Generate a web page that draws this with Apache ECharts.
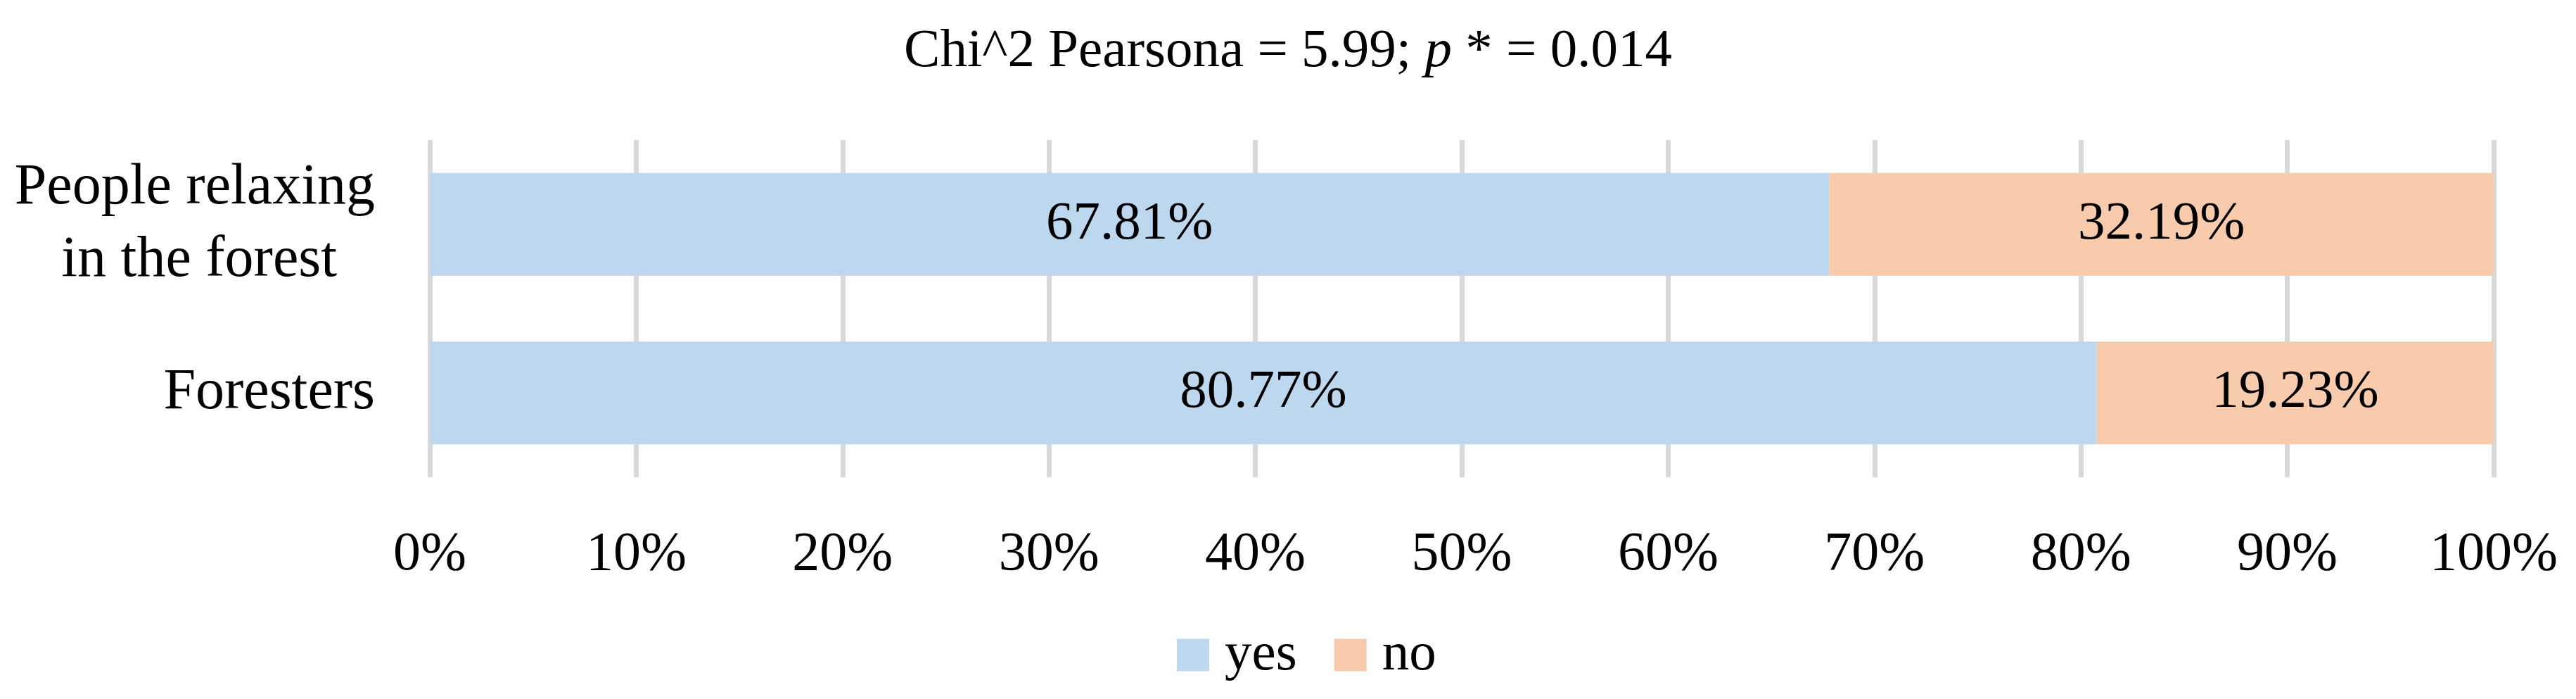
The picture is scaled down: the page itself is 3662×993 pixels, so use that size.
<!DOCTYPE html>
<html>
<head>
<meta charset="utf-8">
<script src="https://cdn.jsdelivr.net/npm/echarts@6/dist/echarts.min.js"></script>
<style>html,body{margin:0;padding:0;background:#fff;}#c{width:3662px;height:993px;}</style>
</head>
<body>
<div id="c"></div>
<script>
const categories = ['People relaxing\nin the forest', 'Foresters'];
const yesValues = [67.81, 80.77];
const noValues = [32.19, 19.23];
const seriesNames = ['yes', 'no'];

const FONT = 'Liberation Serif';
const chart = echarts.init(document.getElementById('c'));
const labelStyle = {
  show: true, position: 'inside', color: '#000', fontFamily: FONT, fontSize: 77,
  formatter: p => p.value.toFixed(2) + '%'
};
chart.setOption({
  animation: false,
  backgroundColor: '#fff',
  title: {
    text: '{a|Chi^2 Pearsona = 5.99; }{i|p}{a| * = 0.014}',
    left: 'center', top: 30,
    textStyle: {
      fontWeight: 'normal',
      rich: {
        a: { fontFamily: FONT, fontSize: 77, color: '#000', fontWeight: 'normal' },
        i: { fontFamily: FONT, fontSize: 77, color: '#000', fontStyle: 'italic', fontWeight: 'normal' }
      }
    }
  },
  legend: {
    left: 1668, top: 887,
    itemWidth: 46, itemHeight: 46, itemGap: 53,
    icon: 'rect',
    textStyle: { fontFamily: FONT, fontSize: 77, color: '#000', padding: [0, 0, 0, 17] },
    data: seriesNames
  },
  grid: { left: 611, right: 117, top: 199, bottom: 315, containLabel: false },
  xAxis: {
    type: 'value', min: 0, max: 100, interval: 10,
    axisLine: { show: false }, axisTick: { show: false },
    splitLine: { show: true, lineStyle: { color: '#D9D9D9', width: 7 } },
    axisLabel: { fontFamily: FONT, fontSize: 78, color: '#000', margin: 72, formatter: '{value}%' }
  },
  yAxis: {
    type: 'category', inverse: true, data: categories,
    axisLine: { show: false }, axisTick: { show: false },
    axisLabel: {
      margin: 78, align: 'right',
      formatter: v => {
        const parts = v.split('\n');
        if (parts.length === 1) return '{a|' + parts[0] + '}';
        return '{a|' + parts[0] + '}\n{b|' + parts[1] + '}';
      },
      rich: {
        a: { fontFamily: FONT, fontSize: 82, color: '#000', lineHeight: 103 },
        b: { fontFamily: FONT, fontSize: 82, color: '#000', lineHeight: 103, padding: [0, 54, 0, 0] }
      }
    }
  },
  series: [
    { name: seriesNames[0], type: 'bar', stack: 'total', data: yesValues, barCategoryGap: '39%',
      itemStyle: { color: '#BDD7EE' }, label: labelStyle },
    { name: seriesNames[1], type: 'bar', stack: 'total', data: noValues, barCategoryGap: '39%',
      itemStyle: { color: '#F8CBAD' }, label: labelStyle }
  ]
});
</script>
</body>
</html>
